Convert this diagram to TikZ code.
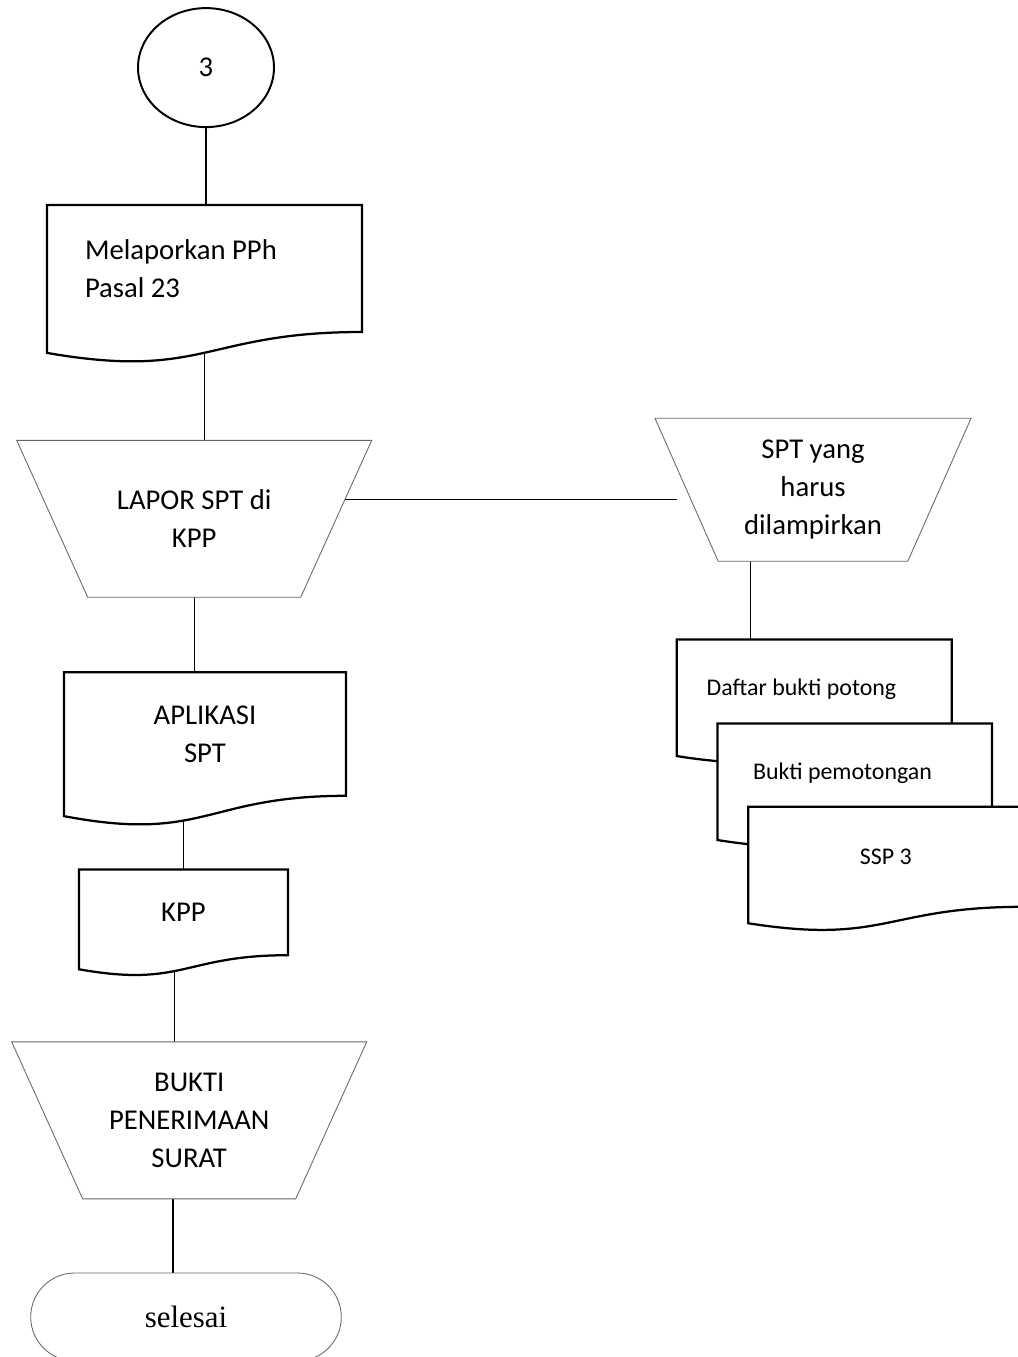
\documentclass[tikz,border=0pt]{standalone}
\usepackage{fontspec}
\setmainfont{Carlito}
\newfontfamily\serifrm{Liberation Serif}
\usetikzlibrary{shapes.geometric,shapes.misc,calc,backgrounds}

%% document outline (flat top, wavy bottom) round a named node
\newcommand{\docoutline}[1]{%
  \draw[docline] (#1.north west) -- (#1.north east) -- (#1.south east)
    .. controls (#1.south) and ($(#1.north)!1.381!(#1.south)$)
    .. ($(#1.north west)!1.1645!(#1.south west)$) -- cycle;}
%% manual operation outline (wide top, narrow bottom) round a named node
\newcommand{\manoutline}[1]{%
  \draw[manline] (#1.north west) -- (#1.north east)
    -- ($(#1.south west)!0.8!(#1.south east)$)
    -- ($(#1.south west)!0.2!(#1.south east)$) -- cycle;}

\begin{document}
\begin{tikzpicture}[
    font=\fontsize{20.4}{27}\selectfont,
    doc/.style={rectangle, align=center, inner sep=0pt, outer sep=0pt},
    sdoc/.style={doc, minimum width=6.875cm, minimum height=2.5cm,
                 font=\fontsize{17}{21}\selectfont},
    manual/.style={rectangle, align=center, inner sep=0pt, outer sep=0pt},
    docline/.style={draw, line width=1.6pt, fill=white},
    manline/.style={draw=black!60, line width=0.6pt, fill=white},
    link/.style={line width=0.7pt},
    thicklink/.style={line width=1.4pt},
]

\useasboundingbox (0,0) rectangle (25.425,-33.925);

%% ---- LEFT COLUMN ----
\node[ellipse, draw, line width=1.4pt, fill=white, inner sep=0pt,
      minimum width=3.4cm, minimum height=2.975cm] (c3) at (5.15,-1.69) {3};
\node[doc, minimum width=7.875cm, minimum height=3.175cm,
      text width=5.975cm, align=flush left] (lapor23) at (5.1125,-6.7125)
    {Melaporkan PPh\\Pasal 23};
\node[manual, minimum width=8.875cm, minimum height=3.92cm] (lapor) at (4.855,-12.97)
    {LAPOR SPT di\\KPP};
\node[doc, minimum width=7.05cm, minimum height=3.09cm] (aplikasi) at (5.125,-18.35)
    {APLIKASI\\SPT};
\node[doc, minimum width=5.225cm, minimum height=2.14cm] (kpp) at (4.5875,-22.81) {KPP};
\node[manual, minimum width=8.875cm, minimum height=3.925cm] (bukti) at (4.73,-28.01)
    {BUKTI\\PENERIMAAN\\SURAT};
\node[rounded rectangle, draw=black!60, line width=0.6pt, fill=white,
      minimum width=8cm, minimum height=2.2cm,
      font=\serifrm\fontsize{22}{26}\selectfont] (selesai) at (4.65,-32.925) {selesai};

%% ---- RIGHT COLUMN ----
\node[manual, minimum width=7.9cm, minimum height=3.575cm] (spt) at (20.325,-12.245)
    {SPT yang\\harus\\dilampirkan};
\node[sdoc, text width=5.375cm, align=flush left] (daftar) at (20.355,-17.24)
    {Daftar bukti potong};
\node[sdoc, minimum width=6.86cm, text width=5.09cm, align=flush left] (buktipot) at (21.37,-19.34)
    {Bukti pemotongan};
\node[sdoc] (ssp) at (22.145,-21.42) {SSP 3};

%% connector points off the node centres
\coordinate (kppout)   at ([xshift=-0.23cm]kpp.south);
\coordinate (selin)    at ([xshift=-0.33cm]selesai.north);
\coordinate (daftarin) at ([xshift=-1.6cm]daftar.north);
\coordinate (mid)      at ($(lapor.north east)!0.375!(lapor.south east)$);
\coordinate (sptin)    at ($(spt.west)!0.07!(spt.east)$);

\begin{scope}[on background layer]
%% ---- connectors ----
\draw[thicklink] (c3.south) -- (c3.south |- lapor23.north);
\draw[link] (lapor23.south) -- (lapor23.south |- lapor.north);
\draw[link] (lapor.south) -- (lapor.south |- aplikasi.north);
\draw[link] (kpp.north |- aplikasi.south) -- (kpp.north);
\draw[link] (kppout) -- (kppout |- bukti.north);
\draw[thicklink] (selin |- bukti.south) -- (selin);
\draw[link] (lapor.center |- mid) -- (sptin |- mid);
\draw[link] (spt.south -| daftarin) -- (daftarin);

%% ---- outlines (back to front) ----
\manoutline{lapor}
\manoutline{bukti}
\manoutline{spt}
\docoutline{lapor23}
\docoutline{aplikasi}
\docoutline{kpp}
\docoutline{daftar}
\docoutline{buktipot}
\docoutline{ssp}
\end{scope}

\end{tikzpicture}
\end{document}
